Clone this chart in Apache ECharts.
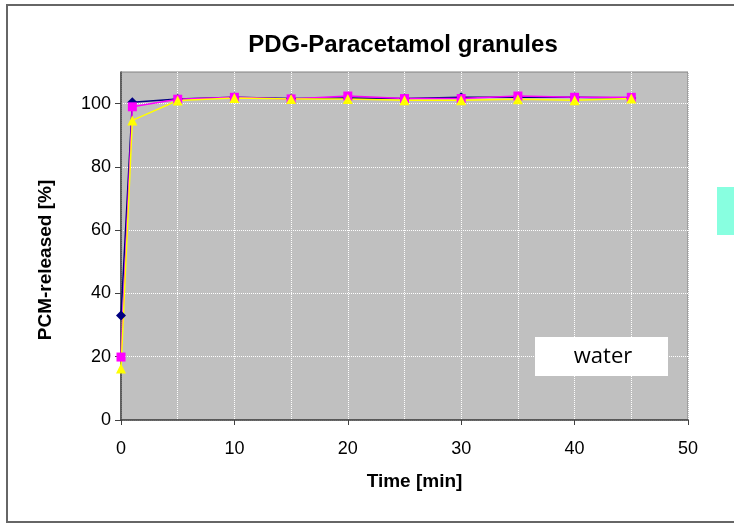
<!DOCTYPE html>
<html>
<head>
<meta charset="utf-8">
<script src="https://cdn.jsdelivr.net/npm/echarts@6/dist/echarts.min.js"></script>
<style>
  html, body { margin: 0; padding: 0; background: #fff; }
  #chart { width: 734px; height: 524px; }
</style>
</head>
<body>
<div id="chart"></div>
<script>
// time points [min]
const times = [0, 1, 5, 10, 15, 20, 25, 30, 35, 40, 45];
// released PCM [%]
const seriesA = [33, 100.4, 101.5, 102, 101.6, 101.8, 101.6, 102, 102, 102, 101.8];
const seriesB = [19.9, 99, 101.4, 102, 101.5, 102.4, 101.6, 101.6, 102.4, 102, 102];
const seriesC = [16.3, 94.7, 101, 101.8, 101.5, 101.5, 101.1, 101.1, 101.4, 101.1, 101.6];
const xTicks = [0, 10, 20, 30, 40, 50];
const yTicks = [0, 20, 40, 60, 80, 100];

const pairs = arr => times.map((t, i) => [t, arr[i]]);
const font = 'Liberation Sans, Arial, sans-serif';

const chart = echarts.init(document.getElementById('chart'));
chart.setOption({
  animation: false,
  backgroundColor: '#fff',
  title: {
    text: 'PDG-Paracetamol granules',
    left: 398, top: 28, textAlign: 'center',
    textStyle: { fontFamily: font, fontWeight: 'bold', fontSize: 24, color: '#000' }
  },
  grid: {
    left: 121, right: 46, top: 72, bottom: 104,
    show: true, backgroundColor: '#c0c0c0', borderColor: '#808080', borderWidth: 1
  },
  xAxis: {
    type: 'value', min: 0, max: 50, interval: 10,
    name: 'Time [min]', nameLocation: 'middle', nameGap: 52,
    nameTextStyle: { fontFamily: font, fontWeight: 'bold', fontSize: 19, color: '#000', padding: [0, 0, 0, 20] },
    axisLine: { lineStyle: { color: '#404040', width: 1.5 } },
    axisTick: { show: true, length: 5, customValues: xTicks, lineStyle: { color: '#404040' } },
    axisLabel: { customValues: xTicks, margin: 20, fontFamily: font, fontSize: 18, color: '#000' },
    splitLine: { show: true, lineStyle: { color: '#fff', type: 'dotted', width: 1 } },
    minorTick: { show: false, splitNumber: 2 },
    minorSplitLine: { show: true, lineStyle: { color: '#fff', type: 'dotted', width: 1 } }
  },
  yAxis: {
    type: 'value', min: 0, max: 110, interval: 20,
    name: 'PCM-released [%]', nameLocation: 'middle', nameGap: 66,
    nameTextStyle: { fontFamily: font, fontWeight: 'bold', fontSize: 19, color: '#000', padding: [0, 28, 0, 0] },
    axisLine: { show: true, lineStyle: { color: '#404040', width: 1.5 } },
    axisTick: { show: true, length: 6, customValues: yTicks, lineStyle: { color: '#404040' } },
    axisLabel: { customValues: yTicks, margin: 10, fontFamily: font, fontSize: 18, color: '#000' },
    splitLine: { show: true, lineStyle: { color: '#fff', type: 'dotted', width: 1 } }
  },
  series: [
    {
      type: 'line', data: pairs(seriesA), symbol: 'diamond', symbolSize: 10,
      lineStyle: { color: '#000080', width: 1.5 }, itemStyle: { color: '#000080' }
    },
    {
      type: 'line', data: pairs(seriesB), symbol: 'rect', symbolSize: 9,
      lineStyle: { color: '#ff00ff', width: 1.5 }, itemStyle: { color: '#ff00ff' }
    },
    {
      type: 'line', data: pairs(seriesC), symbol: 'triangle', symbolSize: 10,
      lineStyle: { color: '#ffff00', width: 1.5 }, itemStyle: { color: '#ffff00' }
    }
  ],
  graphic: [
    {
      type: 'rect', z: -10, silent: true,
      shape: { x: 7, y: 5, width: 740, height: 517 },
      style: { fill: 'none', stroke: '#666', lineWidth: 2 }
    },
    {
      type: 'rect', silent: true,
      shape: { x: 717, y: 187, width: 20, height: 48 },
      style: { fill: '#88ffe0' }
    },
    {
      type: 'rect', silent: true, z: 100,
      shape: { x: 535, y: 337, width: 133, height: 39 },
      style: { fill: '#fff' }
    },
    {
      type: 'text', silent: true, z: 101,
      style: { text: 'water', x: 603, y: 357, align: 'center', verticalAlign: 'middle',
               font: '22px "Open Sans", sans-serif', fill: '#000' }
    }
  ]
});
</script>
</body>
</html>
